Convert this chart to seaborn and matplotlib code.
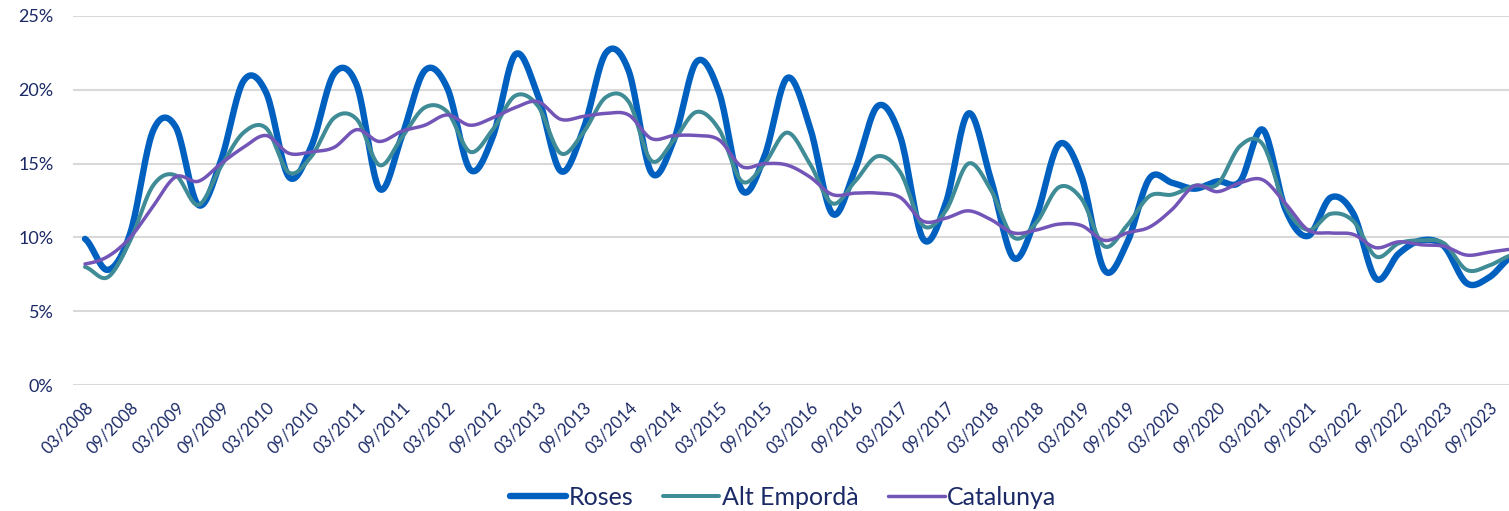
import numpy as np
import pandas as pd
import matplotlib
matplotlib.use("Agg")
import matplotlib.pyplot as plt
import seaborn as sns

# quarterly data, 03/2008 .. 12/2023 (% )
periods = [f"{m}/{y}" for y in range(2008, 2024) for m in ("03", "06", "09", "12")]

roses = [9.9, 7.8, 10.3, 17.2, 17.5, 12.2, 15.2, 20.6, 19.8, 14.1, 16.2, 21.1, 20.3, 13.3, 16.9, 21.3, 20.1, 14.6, 16.8, 22.4, 19.6,
         14.5, 17.3, 22.5, 21.3, 14.4, 16.6, 21.9, 19.8, 13.2, 15.5, 20.8, 17.5, 11.6, 14.6, 18.9, 16.8, 9.9, 12.3, 18.4, 13.9, 8.6,
         11.4, 16.3, 14.1, 7.8, 9.6, 14.0, 13.7, 13.3, 13.8, 13.8, 17.3, 11.9, 10.1, 12.7, 11.6, 7.2, 8.9, 9.8, 9.4, 6.9, 7.3, 8.7]
alt_emporda = [8.0, 7.3, 9.8, 13.5, 14.2, 12.2, 14.8, 17.1, 17.4, 14.4, 15.5, 18.1, 18.0, 14.9, 16.8, 18.8, 18.5, 15.8, 17.3, 19.6, 18.9,
               15.7, 17.1, 19.5, 19.2, 15.2, 16.6, 18.5, 17.3, 13.8, 15.0, 17.1, 15.0, 12.3, 13.8, 15.5, 14.4, 10.8, 11.8, 15.0, 13.2, 10.0,
               11.0, 13.4, 12.6, 9.4, 10.8, 12.8, 12.9, 13.5, 13.6, 16.2, 16.3, 12.1, 10.5, 11.6, 11.1, 8.7, 9.6, 9.8, 9.6, 7.8, 8.1, 8.8]
catalunya = [8.2, 8.7, 10.0, 12.1, 14.1, 13.8, 15.0, 16.1, 16.9, 15.7, 15.8, 16.1, 17.3, 16.5, 17.2, 17.6, 18.3, 17.6, 18.1, 18.8, 19.2,
             18.0, 18.2, 18.4, 18.3, 16.7, 16.9, 16.9, 16.6, 14.8, 15.0, 14.9, 14.1, 12.9, 13.0, 13.0, 12.7, 11.1, 11.3, 11.8, 11.2, 10.3,
             10.5, 10.9, 10.8, 9.8, 10.3, 10.7, 11.9, 13.5, 13.1, 13.7, 13.9, 12.3, 10.5, 10.3, 10.2, 9.3, 9.7, 9.5, 9.4, 8.8, 9.0, 9.2]

series = {"Roses": roses, "Alt Empordà": alt_emporda, "Catalunya": catalunya}
colors = {"Roses": "#0060C0", "Alt Empordà": "#3F8C96", "Catalunya": "#7355B8"}
widths = {"Roses": 4.6, "Alt Empordà": 2.9, "Catalunya": 2.5}
text_col = "#1B2A66"


def smooth(vals, n=20):
    # Catmull-Rom rendering, like Excel's "smoothed line"
    y = np.asarray(vals, float)
    p = np.concatenate([[y[0]], y, [y[-1]]])
    t = np.linspace(0, 1, n, endpoint=False)
    xs, ys = [], []
    for i in range(len(y) - 1):
        p0, p1, p2, p3 = p[i], p[i + 1], p[i + 2], p[i + 3]
        ys.append(0.5 * (2 * p1 + (-p0 + p2) * t + (2 * p0 - 5 * p1 + 4 * p2 - p3) * t ** 2
                         + (-p0 + 3 * p1 - 3 * p2 + p3) * t ** 3))
        xs.append(i + t)
    xs.append([len(y) - 1])
    ys.append([y[-1]])
    return np.concatenate(xs), np.concatenate(ys)


sns.set_style("white")
plt.rcParams["font.family"] = ["Lato", "DejaVu Sans"]

fig = plt.figure(figsize=(15.09, 5.11), dpi=100)
ax = fig.add_axes([73 / 1509, 1 - 385 / 511, 1 - 73 / 1509, (385 - 16) / 511])

for name, vals in series.items():
    xs, ys = smooth(vals)
    sns.lineplot(x=xs, y=ys, sort=False, estimator=None, ax=ax, color=colors[name],
                 linewidth=widths[name], label=name, solid_capstyle="round")

ax.set_xlim(-0.53, 62.87)
ax.set_ylim(0, 25)
ax.set_yticks(range(0, 26, 5))
ax.set_yticklabels([f"{v}%" for v in range(0, 26, 5)], fontsize=13, color=text_col)
ax.yaxis.grid(True, color="#D9D9D9", linewidth=1.5)
ax.set_axisbelow(True)
idx = list(range(0, len(periods), 2))
ax.set_xticks(idx)
ax.set_xticklabels([periods[i] for i in idx], rotation=45, ha="right", rotation_mode="anchor",
                   fontsize=12, color=text_col)
ax.tick_params(axis="x", length=0, pad=10)
ax.tick_params(axis="y", length=0, pad=14)
for s in ax.spines.values():
    s.set_visible(False)
ax.set_xlabel("")
ax.set_ylabel("")

ax.get_legend().remove()
handles, labels = ax.get_legend_handles_labels()
fig.legend(handles, labels, loc="center", bbox_to_anchor=(783 / 1509, 1 - 497 / 511), ncol=3,
           frameon=False, fontsize=18, labelcolor=text_col, handlelength=2.25,
           handletextpad=0.1, columnspacing=1.2)

fig.savefig("out.png", dpi=100)
